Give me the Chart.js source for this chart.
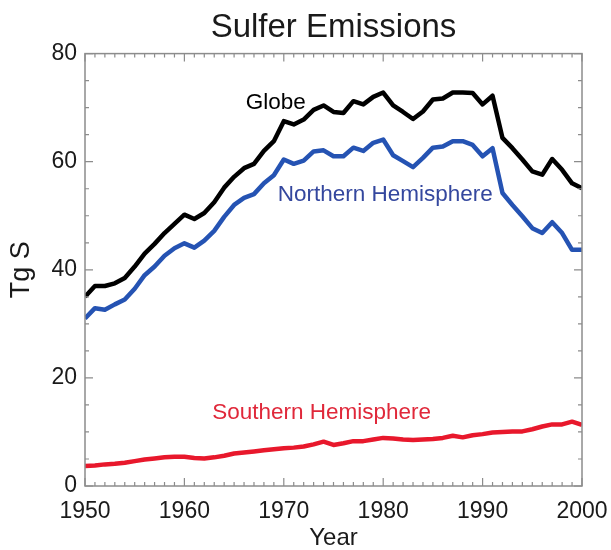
<!DOCTYPE html>
<html>
<head>
<meta charset="utf-8">
<title>Sulfer Emissions</title>
<script src="https://cdn.jsdelivr.net/npm/chart.js@4.4.1/dist/chart.umd.min.js"></script>
<style>
  html, body { margin: 0; padding: 0; background: #fff; }
  #wrap { width: 611px; height: 550px; }
</style>
</head>
<body>
<div id="wrap"><canvas id="chart" width="611" height="550"></canvas></div>
<script>
const years = [
  1950, 1951, 1952, 1953, 1954, 1955, 1956, 1957, 1958, 1959,
  1960, 1961, 1962, 1963, 1964, 1965, 1966, 1967, 1968, 1969,
  1970, 1971, 1972, 1973, 1974, 1975, 1976, 1977, 1978, 1979,
  1980, 1981, 1982, 1983, 1984, 1985, 1986, 1987, 1988, 1989,
  1990, 1991, 1992, 1993, 1994, 1995, 1996, 1997, 1998, 1999,
  2000
]

const globe = [
  35.0, 37.0, 37.0, 37.5, 38.5, 40.6, 43.0, 44.8, 46.8, 48.5,
  50.2, 49.4, 50.5, 52.5, 55.2, 57.2, 58.8, 59.6, 62.0, 63.8,
  67.5, 66.9, 67.8, 69.6, 70.4, 69.2, 69.0, 71.2, 70.6, 72.0,
  72.8, 70.4, 69.2, 67.9, 69.3, 71.5, 71.7, 72.8, 72.8, 72.7,
  70.6, 72.2, 64.4, 62.5, 60.4, 58.2, 57.6, 60.5, 58.5, 56.0,
  55.1
]

const northern = [
  31.0, 32.9, 32.6, 33.6, 34.5, 36.5, 39.0, 40.6, 42.6, 44.0,
  44.9, 44.1, 45.4, 47.2, 49.8, 52.0, 53.3, 54.0, 56.0, 57.5,
  60.4, 59.6, 60.2, 61.9, 62.1, 61.0, 61.0, 62.6, 62.0, 63.5,
  64.1, 61.2, 60.1, 59.0, 60.7, 62.6, 62.8, 63.8, 63.8, 63.1,
  61.0, 62.5, 54.2, 52.0, 49.9, 47.7, 46.8, 48.8, 46.8, 43.7,
  43.7
]

const southern = [
  3.7, 3.8, 4.0, 4.1, 4.3, 4.6, 4.9, 5.1, 5.3, 5.4,
  5.4, 5.2, 5.1, 5.3, 5.6, 6.0, 6.2, 6.4, 6.6, 6.8,
  7.0, 7.1, 7.3, 7.7, 8.2, 7.6, 7.9, 8.3, 8.3, 8.6,
  8.9, 8.8, 8.6, 8.5, 8.6, 8.7, 8.9, 9.3, 9.0, 9.4,
  9.6, 9.9, 10.0, 10.1, 10.1, 10.5, 11.0, 11.4, 11.4, 11.9,
  11.3
]

const xTicks = [1950, 1960, 1970, 1980, 1990, 2000]
const yTicks = [0, 20, 40, 60, 80]

const FONT = '"Liberation Sans", Arial, Helvetica, sans-serif'

// text labels placed next to each curve (data coordinates)
const curveLabels = [
  { text: 'Globe', year: 1969.2, value: 70.9, color: '#000000' },
  { text: 'Northern Hemisphere', year: 1980.2, value: 53.9, color: '#34479e' },
  { text: 'Southern Hemisphere', year: 1973.8, value: 13.5, color: '#e0283a' }
]

function toPoints(values) {
  return years.map((yr, i) => ({ x: yr, y: values[i] }))
}

// box around the plot with small inward ticks on every side
const frameTicks = {
  id: 'frameTicks',
  afterDraw(chart) {
    const { ctx, chartArea: a, scales: { x, y } } = chart
    ctx.save()
    ctx.strokeStyle = '#8c8c8c'
    ctx.lineWidth = 1.5
    ctx.strokeRect(a.left, a.top, a.right - a.left, a.bottom - a.top)

    ctx.lineWidth = 1.2
    ctx.beginPath()
    for (let yr = 1950; yr <= 2000; yr++) {
      const px = x.getPixelForValue(yr)
      const len = yr % 10 === 0 ? 8 : 4
      ctx.moveTo(px, a.bottom)
      ctx.lineTo(px, a.bottom - len)
      ctx.moveTo(px, a.top)
      ctx.lineTo(px, a.top + len)
    }
    for (let v = 0; v <= 80; v += 5) {
      const py = y.getPixelForValue(v)
      const len = v % 20 === 0 ? 8 : 4
      ctx.moveTo(a.left, py)
      ctx.lineTo(a.left + len, py)
      ctx.moveTo(a.right, py)
      ctx.lineTo(a.right - len, py)
    }
    ctx.stroke()
    ctx.restore()
  }
}

const curveText = {
  id: 'curveText',
  afterDatasetsDraw(chart) {
    const { ctx, scales: { x, y } } = chart
    ctx.save()
    ctx.font = '22.5px ' + FONT
    ctx.textAlign = 'center'
    ctx.textBaseline = 'middle'
    curveLabels.forEach(l => {
      ctx.fillStyle = l.color
      ctx.fillText(l.text, x.getPixelForValue(l.year), y.getPixelForValue(l.value))
    })
    ctx.restore()
  }
}

new Chart(document.getElementById('chart').getContext('2d'), {
  type: 'line',
  data: {
    datasets: [
      { label: 'Globe', data: toPoints(globe), borderColor: '#000000' },
      { label: 'Northern Hemisphere', data: toPoints(northern), borderColor: '#2553b3' },
      { label: 'Southern Hemisphere', data: toPoints(southern), borderColor: '#e8182c' }
    ]
  },
  options: {
    responsive: false,
    animation: false,
    devicePixelRatio: 1,
    layout: { padding: { left: 0, right: 29, top: 0, bottom: 0 } },
    elements: {
      line: { borderWidth: 4.5, tension: 0, fill: false, borderJoinStyle: 'round' },
      point: { radius: 0 }
    },
    plugins: {
      legend: { display: false },
      tooltip: { enabled: false },
      title: {
        display: true,
        fullSize: false,
        text: 'Sulfer Emissions',
        color: '#1a1a1a',
        font: { family: FONT, size: 33, weight: 'normal', lineHeight: 1.2 },
        padding: { top: 8, bottom: 6 }
      }
    },
    scales: {
      x: {
        type: 'linear',
        min: 1950,
        max: 2000,
        grid: { display: false, drawTicks: false },
        border: { display: false },
        afterBuildTicks: scale => { scale.ticks = xTicks.map(v => ({ value: v })) },
        afterFit: scale => {
          scale.height = 64
          scale.paddingLeft = 0
          scale.paddingRight = 0
        },
        ticks: {
          color: '#1a1a1a',
          padding: 12,
          maxRotation: 0,
          font: { family: FONT, size: 23 },
          callback: v => String(v)
        },
        title: {
          display: true,
          text: 'Year',
          color: '#1a1a1a',
          font: { family: FONT, size: 24, lineHeight: 1.0 },
          padding: { top: 0, bottom: 0 }
        }
      },
      y: {
        min: 0,
        max: 80,
        grid: { display: false, drawTicks: false },
        border: { display: false },
        afterBuildTicks: scale => { scale.ticks = yTicks.map(v => ({ value: v })) },
        afterFit: scale => { scale.width = 85 },
        ticks: {
          color: '#1a1a1a',
          padding: 8,
          font: { family: FONT, size: 23 }
        },
        title: {
          display: true,
          text: 'Tg S',
          color: '#1a1a1a',
          font: { family: FONT, size: 27, lineHeight: 1.2 },
          padding: { top: 5, bottom: 0 }
        }
      }
    }
  },
  plugins: [frameTicks, curveText]
})
</script>
</body>
</html>
